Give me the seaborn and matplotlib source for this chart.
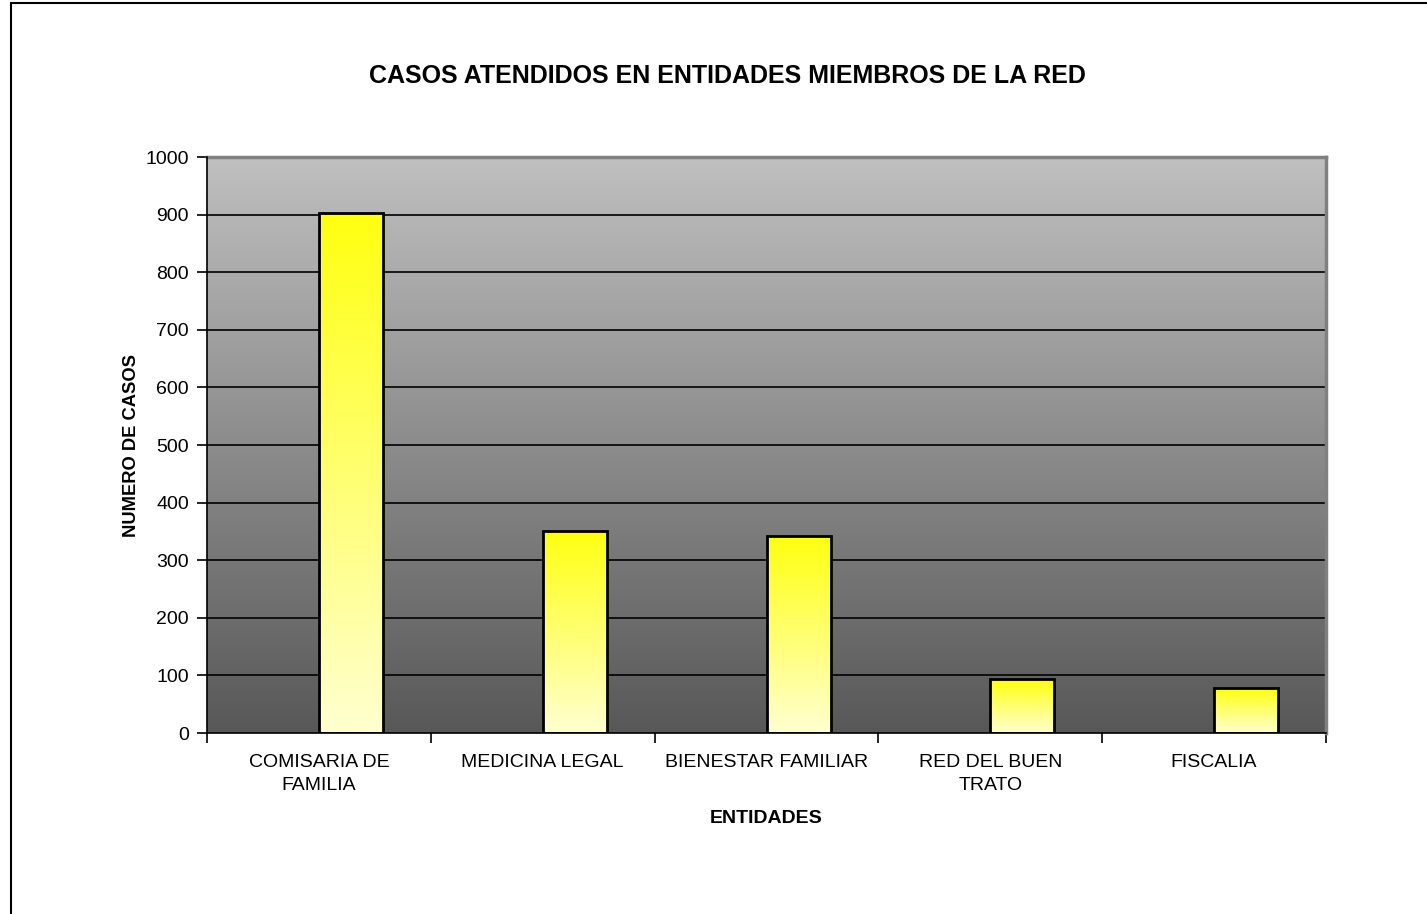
import matplotlib
matplotlib.use("Agg")
import matplotlib.pyplot as plt
import numpy as np
import pandas as pd
import seaborn as sns
from matplotlib.colors import LinearSegmentedColormap
from matplotlib.patches import Rectangle

# data
entidades = [
    "COMISARIA DE\nFAMILIA",
    "MEDICINA LEGAL",
    "BIENESTAR FAMILIAR",
    "RED DEL BUEN\nTRATO",
    "FISCALIA",
]
casos = [903, 351, 342, 93, 78]
y_ticks = list(range(0, 1001, 100))

sns.set_theme(style="white")
plt.rcParams["font.family"] = ["Liberation Sans", "DejaVu Sans"]
plt.rcParams["text.color"] = "black"
plt.rcParams["axes.labelcolor"] = "black"
plt.rcParams["xtick.color"] = "black"
plt.rcParams["ytick.color"] = "black"

# excel style chart: an empty first series pushes the bars right of centre
df = pd.DataFrame({
    "Entidad": entidades * 2,
    "Casos": [0] * len(casos) + casos,
    "Serie": ["vacia"] * len(casos) + ["casos"] * len(casos),
})

fig = plt.figure(figsize=(14.27, 9.14), dpi=100)
ax = fig.add_axes([0.1451, 0.198, 0.7841, 0.6302])

sns.barplot(
    data=df, x="Entidad", y="Casos", hue="Serie",
    order=entidades, hue_order=["vacia", "casos"],
    width=0.572, dodge=True, legend=False, ax=ax,
    edgecolor="black", linewidth=2,
)

ax.set_ylim(0, 1000)
ax.set_xlim(-0.5, len(entidades) - 0.5)

# gray gradient behind the plot area
bg_cmap = LinearSegmentedColormap.from_list("bg", ["#585858", "#c0c0c0"])
gradient = np.linspace(0, 1, 256).reshape(-1, 1)
ax.imshow(gradient, cmap=bg_cmap, origin="lower", aspect="auto",
          extent=[-0.5, len(entidades) - 0.5, 0, 1000], zorder=0)

# yellow gradient inside each bar
bar_cmap = LinearSegmentedColormap.from_list("bar", ["#ffffd0", "#ffff10"])
for patch in ax.patches:
    h = patch.get_height()
    if h <= 0:
        patch.set_visible(False)
        continue
    x0 = patch.get_x()
    w = patch.get_width()
    patch.set_facecolor("none")
    patch.set_zorder(4)
    img = ax.imshow(gradient, cmap=bar_cmap, origin="lower", aspect="auto",
                    extent=[x0, x0 + w, 0, h], zorder=3)
    img.set_clip_path(Rectangle((x0, 0), w, h, transform=ax.transData))

ax.set_yticks(y_ticks)
for y in y_ticks[1:]:
    ax.axhline(y, color="black", linewidth=1.2, zorder=2)

# labels at category centres, tick marks between categories
ax.set_xticks(range(len(entidades)))
ax.set_xticklabels(entidades, fontsize=14, linespacing=1.45)
ax.tick_params(axis="x", length=0, pad=15)
ax.set_xticks(np.arange(-0.5, len(entidades), 1), minor=True)
ax.tick_params(axis="x", which="minor", length=7, width=1.2, color="black",
               direction="out", bottom=True)
ax.tick_params(axis="y", length=7, width=1.2, color="black", direction="out",
               left=True, labelsize=14, pad=6)

for side in ["top", "right"]:
    ax.spines[side].set_color("#808080")
    ax.spines[side].set_linewidth(2.5)
for side in ["left", "bottom"]:
    ax.spines[side].set_color("black")
    ax.spines[side].set_linewidth(1.2)
    ax.spines[side].set_zorder(5)

ax.set_xlabel("ENTIDADES", fontsize=14, fontweight="bold", labelpad=12)
ax.set_ylabel("NUMERO DE CASOS", fontsize=13.2, fontweight="bold", labelpad=4)

fig.text(0.5095, 0.917, "CASOS ATENDIDOS EN ENTIDADES MIEMBROS DE LA RED",
         ha="center", va="center", fontsize=18, fontweight="bold")

# outer chart frame (only left and top edges show in the reference)
fig.add_artist(plt.Line2D([0.0075, 0.0075], [0, 0.997], color="black",
                          linewidth=1.5, transform=fig.transFigure))
fig.add_artist(plt.Line2D([0.0075, 1.0], [0.997, 0.997], color="black",
                          linewidth=1.5, transform=fig.transFigure))

fig.savefig("out.png", dpi=100)
